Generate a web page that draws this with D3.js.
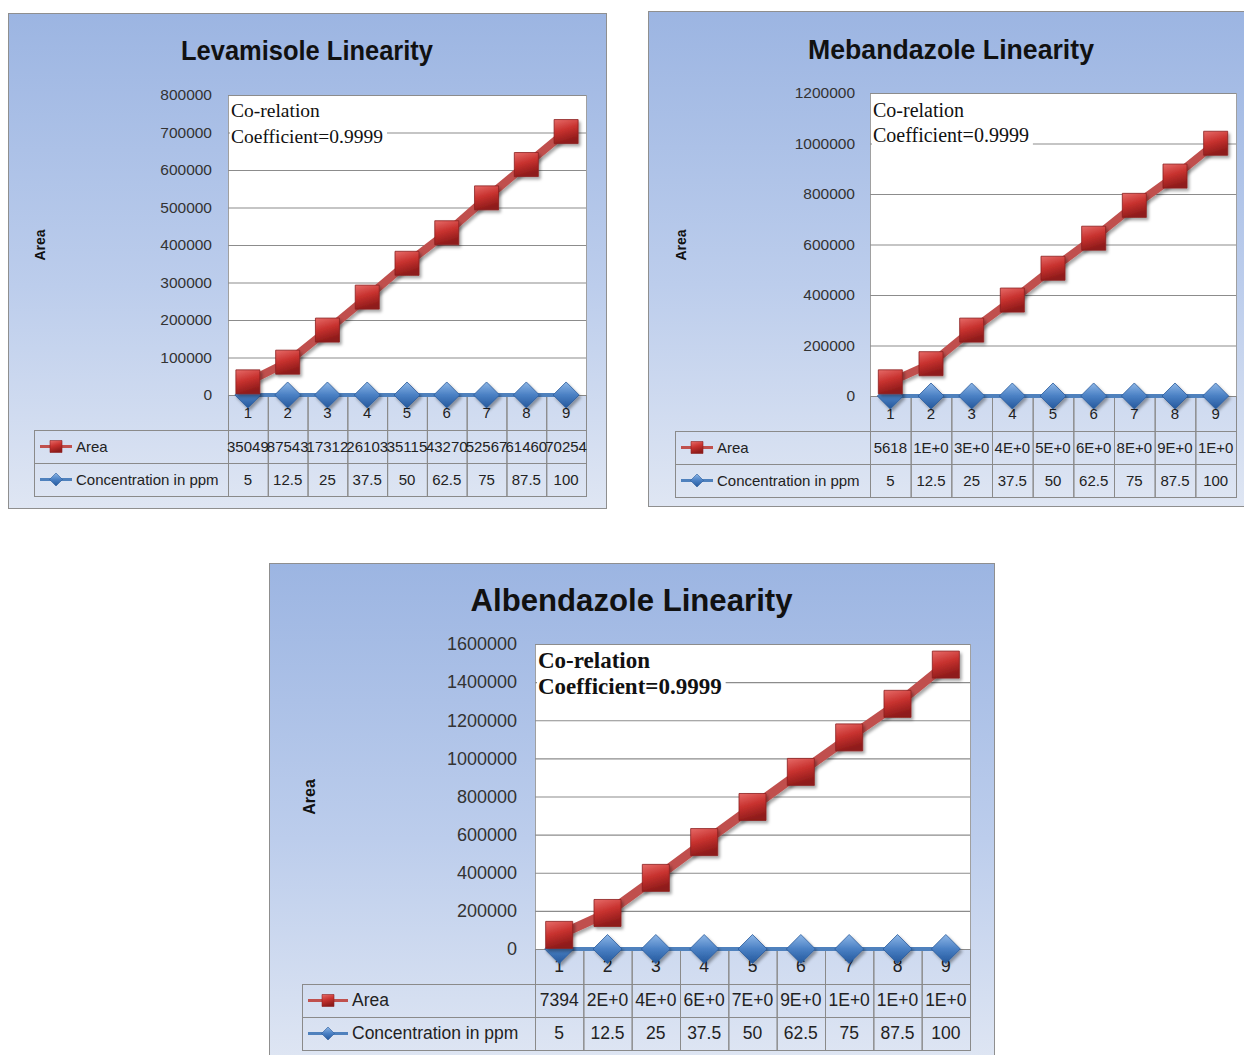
<!DOCTYPE html>
<html lang="en">
  <head>
    <meta charset="utf-8" />
    <title>Linearity charts</title>
    <script src="https://d3js.org/d3.v7.min.js"></script>
    <style type="text/css">
      body { margin: 0; background: #fff; }
      svg { display: block; }
    </style>
  </head>
  <body>
    <script type="text/javascript">
      // Shared categories and the concentration series
      const categories = ["1", "2", "3", "4", "5", "6", "7", "8", "9"];
      const concentration = [5, 12.5, 25, 37.5, 50, 62.5, 75, 87.5, 100];
      const concentrationLabels = ["5", "12.5", "25", "37.5", "50", "62.5", "75", "87.5", "100"];

      // Levamisole
      const levamisoleArea = [35049, 87543, 173120, 261030, 351150, 432700, 525670, 614600, 702540];
      const levamisoleLabels = ["35049", "87543", "17312", "26103", "35115", "43270", "52567", "61460", "70254"];
      const levamisoleTicks = [0, 100000, 200000, 300000, 400000, 500000, 600000, 700000, 800000];

      // Mebandazole
      const mebandazoleArea = [56180, 128000, 261000, 380000, 506000, 625000, 755000, 871000, 1001000];
      const mebandazoleLabels = ["5618", "1E+0", "3E+0", "4E+0", "5E+0", "6E+0", "8E+0", "9E+0", "1E+0"];
      const mebandazoleTicks = [0, 200000, 400000, 600000, 800000, 1000000, 1200000];

      // Albendazole
      const albendazoleArea = [73940, 189000, 373000, 561000, 745000, 929000, 1110000, 1286000, 1492000];
      const albendazoleLabels = ["7394", "2E+0", "4E+0", "6E+0", "7E+0", "9E+0", "1E+0", "1E+0", "1E+0"];
      const albendazoleTicks = [0, 200000, 400000, 600000, 800000, 1000000, 1200000, 1400000, 1600000];

      const w = 1244;
      const h = 1055;

      const svg = d3.select("body").append("svg").attr("width", w).attr("height", h);
      const defs = svg.append("defs");

      //Panel background
      const pg = defs.append("linearGradient").attr("id", "panelGrad")
        .attr("x1", 0).attr("y1", 0).attr("x2", 0).attr("y2", 1);
      pg.append("stop").attr("offset", "0%").attr("stop-color", "#9cb5e2");
      pg.append("stop").attr("offset", "55%").attr("stop-color", "#bccdec");
      pg.append("stop").attr("offset", "100%").attr("stop-color", "#dfe6f3");

      //Marker gradients
      const rg = defs.append("linearGradient").attr("id", "redGrad")
        .attr("x1", 0).attr("y1", 0).attr("x2", 0.3).attr("y2", 1);
      rg.append("stop").attr("offset", "0%").attr("stop-color", "#e66b68");
      rg.append("stop").attr("offset", "50%").attr("stop-color", "#c8322f");
      rg.append("stop").attr("offset", "100%").attr("stop-color", "#8e1b1a");

      const bg = defs.append("linearGradient").attr("id", "blueGrad")
        .attr("x1", 0).attr("y1", 0).attr("x2", 0).attr("y2", 1);
      bg.append("stop").attr("offset", "0%").attr("stop-color", "#8db6e6");
      bg.append("stop").attr("offset", "50%").attr("stop-color", "#4a80c4");
      bg.append("stop").attr("offset", "100%").attr("stop-color", "#24589c");

      const sh = defs.append("filter").attr("id", "shadow")
        .attr("x", "-30%").attr("y", "-30%").attr("width", "170%").attr("height", "170%");
      sh.append("feDropShadow").attr("dx", 2).attr("dy", 2.5)
        .attr("stdDeviation", 1.6).attr("flood-color", "#000").attr("flood-opacity", 0.35);

      const charts = [
        {
          title: "Levamisole Linearity", titleSize: 27, titleW: 252, titleY: 60, titleShift: 0,
          area: levamisoleArea, areaLabels: levamisoleLabels, ticks: levamisoleTicks,
          panel: { x: 8, y: 13, w: 598, h: 495 },
          plot: { x: 228, y: 95, w: 358, h: 300 },
          legendX: 34, labelX: 212, axisX: 40, axisY: 245,
          rows: [35, 33, 33], note: { size: 19.5, bold: false, y1: 117, y2: 143 },
          marker: 25, redW: 8, tickSize: 15.5, tableSize: 15, keyLen: 32, axisSize: 14
        },
        {
          title: "Mebandazole Linearity", titleSize: 28, titleW: 286, titleY: 59, titleShift: -2,
          area: mebandazoleArea, areaLabels: mebandazoleLabels, ticks: mebandazoleTicks,
          panel: { x: 648, y: 11, w: 610, h: 495 },
          plot: { x: 870, y: 93, w: 366, h: 303 },
          legendX: 675, labelX: 855, axisX: 681, axisY: 245,
          rows: [35, 33, 33], note: { size: 20, bold: false, y1: 117, y2: 142 },
          marker: 25, redW: 8, tickSize: 15.5, tableSize: 15, keyLen: 32, axisSize: 14
        },
        {
          title: "Albendazole Linearity", titleSize: 31, titleW: 322, titleY: 611, titleShift: 0,
          area: albendazoleArea, areaLabels: albendazoleLabels, ticks: albendazoleTicks,
          panel: { x: 269, y: 563, w: 725, h: 500 },
          plot: { x: 535, y: 644, w: 435, h: 305 },
          legendX: 302, labelX: 517, axisX: 309, axisY: 797,
          rows: [35, 33, 33], note: { size: 23, bold: true, y1: 668, y2: 694 },
          marker: 28, redW: 9, tickSize: 18, tableSize: 17.5, keyLen: 40, axisSize: 16
        }
      ];

      charts.forEach(function (c) {
        drawChart(svg.append("g"), c);
      });

      function squarePath(s) {
        return "M" + -s / 2 + "," + -s / 2 + "h" + s + "v" + s + "h" + -s + "Z";
      }
      function diamondPath(s) {
        return "M0," + -s / 2 + "L" + s / 2 + ",0L0," + s / 2 + "L" + -s / 2 + ",0Z";
      }

      function drawChart(g, c) {
        const p = c.plot;
        const tableTop = p.y + p.h;
        const tableFont = "'Liberation Sans', Arial, sans-serif";

        //Panel
        g.append("rect")
          .attr("x", c.panel.x + 0.5).attr("y", c.panel.y + 0.5)
          .attr("width", c.panel.w).attr("height", c.panel.h)
          .attr("fill", "url(#panelGrad)").attr("stroke", "#8f8f8f");

        //Title
        g.append("text")
          .attr("x", c.panel.x + c.panel.w / 2 + c.titleShift)
          .attr("y", c.titleY)
          .attr("text-anchor", "middle")
          .attr("font-family", "'Liberation Sans Narrow', 'Liberation Sans', sans-serif")
          .attr("font-weight", "bold")
          .attr("font-size", c.titleSize)
          .attr("textLength", c.titleW)
          .attr("lengthAdjust", "spacingAndGlyphs")
          .attr("fill", "#111")
          .text(c.title);

        //Axis title
        g.append("text")
          .attr("transform", "translate(" + c.axisX + "," + c.axisY + ") rotate(-90)")
          .attr("text-anchor", "middle")
          .attr("dy", "0.35em")
          .attr("font-family", tableFont)
          .attr("font-weight", "bold")
          .attr("font-size", c.axisSize)
          .attr("fill", "#111")
          .text("Area");

        const xScale = d3.scaleBand().domain(categories).range([p.x, p.x + p.w]);
        const bw = xScale.bandwidth();
        const yScale = d3.scaleLinear()
          .domain([0, d3.max(c.ticks)])
          .range([p.y + p.h, p.y]);

        //Plot area
        g.append("rect")
          .attr("x", p.x + 0.5).attr("y", p.y + 0.5)
          .attr("width", p.w).attr("height", p.h)
          .attr("fill", "#fff").attr("stroke", "#a0a0a0");

        //Gridlines
        const grid = g.append("g")
          .attr("transform", "translate(" + p.x + ",0)")
          .call(d3.axisLeft(yScale).tickValues(c.ticks).tickSize(-p.w).tickFormat(""));
        grid.select(".domain").remove();
        grid.selectAll("line").attr("stroke", "#8c8c8c").attr("stroke-width", 1.2);

        //Tick labels
        const yAxis = g.append("g")
          .attr("transform", "translate(" + c.labelX + ",0)")
          .call(d3.axisLeft(yScale).tickValues(c.ticks).tickSize(0).tickPadding(0).tickFormat(d3.format("d")));
        yAxis.select(".domain").remove();
        yAxis.selectAll("text")
          .attr("font-family", tableFont)
          .attr("font-size", c.tickSize)
          .attr("fill", "#333");

        //Annotation
        const note = g.append("g");
        const noteBg = note.append("rect").attr("fill", "#fff");
        const nt = note.append("text")
          .attr("font-family", "'Liberation Serif', 'Times New Roman', serif")
          .attr("font-size", c.note.size)
          .attr("font-weight", c.note.bold ? "bold" : "normal")
          .attr("fill", "#111");
        nt.append("tspan").attr("x", p.x + 3).attr("y", c.note.y1).text("Co-relation");
        nt.append("tspan").attr("x", p.x + 3).attr("y", c.note.y2).text("Coefficient=0.9999");
        const bb = nt.node().getBBox();
        noteBg.attr("x", p.x + 2).attr("y", p.y + 2)
          .attr("width", bb.x + bb.width - p.x + 2)
          .attr("height", bb.y + bb.height - p.y);

        //Data table
        const rowCat = c.rows[0], rowH = c.rows[1];
        const table = g.append("g").attr("stroke", "#8a8a8a").attr("fill", "none");
        table.selectAll(".catcell")
          .data(categories)
          .enter()
          .append("rect")
          .attr("x", function (d) { return xScale(d) + 0.5; })
          .attr("y", tableTop + 0.5)
          .attr("width", bw)
          .attr("height", rowCat);
        [0, 1].forEach(function (r) {
          const ry = tableTop + rowCat + r * rowH;
          table.append("rect")
            .attr("x", c.legendX + 0.5).attr("y", ry + 0.5)
            .attr("width", p.x - c.legendX).attr("height", rowH);
          table.selectAll(".row" + r)
            .data(categories)
            .enter()
            .append("rect")
            .attr("x", function (d) { return xScale(d) + 0.5; })
            .attr("y", ry + 0.5)
            .attr("width", bw)
            .attr("height", rowH);
        });

        const tText = g.append("g")
          .attr("font-family", tableFont)
          .attr("font-size", c.tableSize)
          .attr("fill", "#222")
          .attr("text-anchor", "middle");
        tText.selectAll(".cat")
          .data(categories)
          .enter()
          .append("text")
          .attr("x", function (d) { return xScale(d) + bw / 2; })
          .attr("y", tableTop + rowCat / 2 + 5)
          .text(function (d) { return d; });
        tText.selectAll(".areaLbl")
          .data(c.areaLabels)
          .enter()
          .append("text")
          .attr("x", function (d, i) { return xScale(categories[i]) + bw / 2; })
          .attr("y", tableTop + rowCat + rowH / 2 + c.tableSize / 3)
          .text(function (d) { return d; });
        tText.selectAll(".concLbl")
          .data(concentrationLabels)
          .enter()
          .append("text")
          .attr("x", function (d, i) { return xScale(categories[i]) + bw / 2; })
          .attr("y", tableTop + rowCat + rowH * 1.5 + c.tableSize / 3)
          .text(function (d) { return d; });

        //Legend keys in the table
        const legend = [
          { name: "Area", color: "#c0504d", grad: "url(#redGrad)", stroke: "#8b2020", shape: squarePath(12) },
          { name: "Concentration in ppm", color: "#4f81bd", grad: "url(#blueGrad)", stroke: "#2a5a9a", shape: diamondPath(13) }
        ];
        legend.forEach(function (l, i) {
          const ly = tableTop + rowCat + rowH * (i + 0.5);
          g.append("line")
            .attr("x1", c.legendX + 6).attr("x2", c.legendX + 6 + c.keyLen)
            .attr("y1", ly).attr("y2", ly)
            .attr("stroke", l.color).attr("stroke-width", 3);
          g.append("path")
            .attr("transform", "translate(" + (c.legendX + 6 + c.keyLen / 2) + "," + ly + ")")
            .attr("d", l.shape)
            .attr("fill", l.grad).attr("stroke", l.stroke).attr("stroke-width", 0.6);
          g.append("text")
            .attr("x", c.legendX + 10 + c.keyLen).attr("y", ly + c.tableSize / 3)
            .attr("font-family", tableFont)
            .attr("font-size", c.tableSize)
            .attr("fill", "#222")
            .text(l.name);
        });

        //Series
        const line = d3.line()
          .x(function (d, i) { return xScale(categories[i]) + bw / 2; })
          .y(function (d) { return yScale(d); });

        g.append("path")
          .datum(concentration)
          .attr("d", line)
          .attr("fill", "none")
          .attr("stroke", "#4f81bd")
          .attr("stroke-width", 4);

        g.selectAll(".diamond")
          .data(concentration)
          .enter()
          .append("path")
          .attr("transform", function (d, i) {
            return "translate(" + (xScale(categories[i]) + bw / 2) + "," + yScale(d) + ")";
          })
          .attr("d", diamondPath(c.marker + 1))
          .attr("fill", "url(#blueGrad)")
          .attr("stroke", "#2a5a9a")
          .attr("stroke-width", 0.8)
          .attr("filter", "url(#shadow)");

        g.append("path")
          .datum(c.area)
          .attr("d", line)
          .attr("fill", "none")
          .attr("stroke", "#c0504d")
          .attr("stroke-width", c.redW)
          .attr("filter", "url(#shadow)");

        g.selectAll(".square")
          .data(c.area)
          .enter()
          .append("path")
          .attr("transform", function (d, i) {
            return "translate(" + (xScale(categories[i]) + bw / 2) + "," + yScale(d) + ")";
          })
          .attr("d", squarePath(c.marker - 1))
          .attr("fill", "url(#redGrad)")
          .attr("stroke", "#8b2020")
          .attr("stroke-width", 0.8)
          .attr("filter", "url(#shadow)");
      }
    </script>
  </body>
</html>
